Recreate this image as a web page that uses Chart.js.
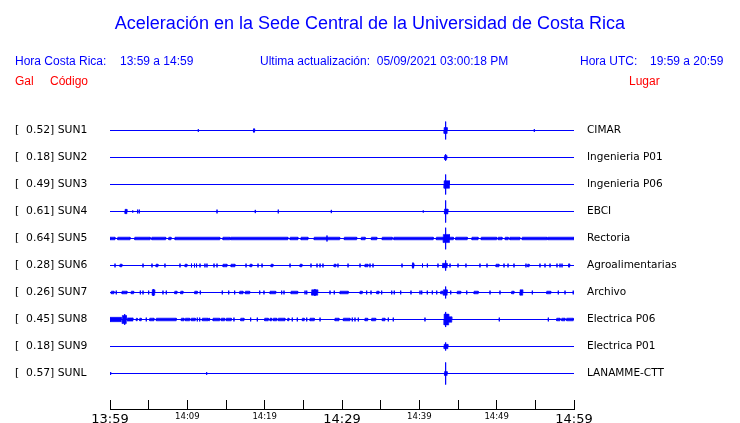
<!DOCTYPE html>
<html>
<head>
<meta charset="utf-8">
<script src="https://cdn.jsdelivr.net/npm/chart.js@4/dist/chart.umd.min.js"></script>
<style>
  body { margin: 0; background: #fff; }
  #wrap { position: relative; width: 740px; height: 423px; overflow: hidden; }
  #plot { position: absolute; left: 0; top: 0; }
  .txt { position: absolute; font-family: "Liberation Sans", Arial, sans-serif; line-height: 1; white-space: pre; }
  .blue { color: #0000ff; }
  .red  { color: #ff0000; }
</style>
</head>
<body>
<div id="wrap">
  <canvas id="plot" width="740" height="423"></canvas>
  <div class="txt blue" style="left:0;width:740px;text-align:center;top:14px;font-size:18px;">Aceleración en la Sede Central de la Universidad de Costa Rica</div>
  <div class="txt blue" style="left:15px;top:55px;font-size:12px;">Hora Costa Rica:</div>
  <div class="txt blue" style="left:120px;top:55px;font-size:12px;">13:59 a 14:59</div>
  <div class="txt blue" style="left:260px;top:55px;font-size:12px;">Ultima actualización:  05/09/2021 03:00:18 PM</div>
  <div class="txt blue" style="left:580px;top:55px;font-size:12px;">Hora UTC:</div>
  <div class="txt blue" style="left:650px;top:55px;font-size:12px;">19:59 a 20:59</div>
  <div class="txt red" style="left:15px;top:75px;font-size:12px;">Gal</div>
  <div class="txt red" style="left:50px;top:75px;font-size:12px;">Código</div>
  <div class="txt red" style="left:629px;top:75px;font-size:12px;">Lugar</div>
</div>
<script>
// --- Données ---
const STATIONS = ['SUN1', 'SUN2', 'SUN3', 'SUN4', 'SUN5', 'SUN6', 'SUN7', 'SUN8', 'SUN9', 'SUNL'];
const PEAK_GAL = ['0.52', '0.18', '0.49', '0.61', '0.64', '0.28', '0.26', '0.45', '0.18', '0.57'];
const PLACES   = ['CIMAR', 'Ingenieria P01', 'Ingenieria P06', 'EBCI', 'Rectoria',
                  'Agroalimentarias', 'Archivo', 'Electrica P06', 'Electrica P01', 'LANAMME-CTT'];

// minutes après 13:59
const TICK_MINUTES     = [0, 10, 20, 30, 40, 50, 60];
const TICK_LABELS      = ['13:59', '14:09', '14:19', '14:29', '14:39', '14:49', '14:59'];
const BIG_TICK_MINUTES = [0, 30, 60];

// pics : [minute, amplitude]   (amplitude en fraction de l'écart entre traces)
// bandes de bruit : [début, fin, amplitude]
const SUN1_SPIKES = [[11.42, 0.05], [18.62, 0.07], [43.4, 0.33], [54.87, 0.05]];
const SUN1_BANDS  = [[18.55, 18.7, 0.06], [43.2, 43.6, 0.11]];

const SUN2_SPIKES = [[43.4, 0.12]];
const SUN2_BANDS  = [[43.25, 43.55, 0.07]];

const SUN3_SPIKES = [[43.4, 0.37]];
const SUN3_BANDS  = [[43.2, 43.9, 0.14]];

const SUN4_SPIKES = [[2.94, 0.04], [3.58, 0.07], [3.79, 0.07], [13.84, 0.07], [18.79, 0.06],
                     [21.76, 0.07], [28.62, 0.06], [40.51, 0.04], [43.4, 0.41]];
const SUN4_BANDS  = [[1.94, 2.2, 0.08], [43.25, 43.7, 0.09]];

const SUN5_SPIKES = [[28.06, 0.11], [43.4, 0.4]];
const SUN5_BANDS  = [[0, 0.65, 0.05], [1.0, 2.6, 0.05], [3.2, 5.2, 0.05], [5.4, 7.2, 0.05], [7.6, 7.9, 0.05],
                     [8.4, 14.2, 0.05], [14.6, 15.5, 0.05], [15.6, 23.0, 0.05], [23.3, 24.3, 0.05],
                     [24.7, 25.6, 0.05], [26.4, 29.7, 0.05], [30.3, 31.9, 0.05], [32.5, 33.0, 0.05],
                     [33.8, 34.5, 0.05], [35.2, 36.5, 0.05], [36.7, 41.8, 0.05], [42.2, 43.1, 0.05],
                     [43.1, 43.9, 0.15], [43.9, 44.4, 0.05], [44.7, 46.2, 0.05], [46.8, 47.6, 0.05],
                     [48.0, 50.0, 0.05], [50.2, 50.7, 0.05], [51.1, 51.5, 0.05], [51.7, 53.0, 0.05],
                     [53.3, 56.5, 0.05], [56.6, 60, 0.05]];

const SUN6_SPIKES = [[0.65, 0.07], [4.27, 0.07], [5.43, 0.07], [7.11, 0.07], [9.05, 0.07], [10.54, 0.07],
                     [10.93, 0.07], [11.19, 0.07], [11.64, 0.07], [12.28, 0.07], [12.54, 0.07], [13.45, 0.07],
                     [13.84, 0.07], [17.59, 0.07], [19.14, 0.07], [19.66, 0.07], [23.28, 0.07], [25.99, 0.07],
                     [26.77, 0.07], [27.16, 0.07], [27.54, 0.07], [29.48, 0.07], [30.78, 0.07], [32.33, 0.07],
                     [33.62, 0.07], [34.01, 0.07], [37.76, 0.07], [39.18, 0.11], [40.41, 0.07], [41.04, 0.07],
                     [42.41, 0.07], [43.4, 0.19], [43.97, 0.07], [45.0, 0.07], [46.03, 0.07], [47.84, 0.07],
                     [48.75, 0.07], [50.95, 0.07], [51.47, 0.07], [52.24, 0.07], [53.79, 0.07], [55.6, 0.07],
                     [56.25, 0.07], [56.9, 0.07], [57.8, 0.07], [58.19, 0.07], [58.45, 0.07], [59.36, 0.07]];
const SUN6_BANDS  = [[1.29, 1.55, 0.05], [5.95, 6.21, 0.05], [9.7, 9.96, 0.05], [14.61, 15.13, 0.05],
                     [15.65, 16.16, 0.05], [18.1, 18.36, 0.05], [20.82, 21.08, 0.05], [24.57, 24.83, 0.05],
                     [28.97, 29.22, 0.05], [32.97, 33.36, 0.05], [39.1, 39.3, 0.07], [43.0, 43.6, 0.08],
                     [49.91, 50.3, 0.05], [54.0, 54.2, 0.05], [59.3, 59.45, 0.05]];

const SUN7_SPIKES = [[0.81, 0.07], [3.92, 0.07], [4.27, 0.07], [5.0, 0.07], [5.6, 0.13], [6.85, 0.07],
                     [7.28, 0.07], [11.68, 0.07], [14.52, 0.07], [15.35, 0.07], [16.12, 0.07], [19.36, 0.07],
                     [19.91, 0.07], [22.2, 0.07], [22.5, 0.07], [25.22, 0.07], [25.44, 0.07], [26.5, 0.13],
                     [28.45, 0.07], [29.0, 0.07], [33.19, 0.07], [33.75, 0.07], [35.13, 0.07], [36.43, 0.07],
                     [36.76, 0.07], [37.59, 0.07], [38.92, 0.07], [40.09, 0.07], [40.31, 0.07], [41.03, 0.07],
                     [41.68, 0.07], [42.25, 0.07], [43.4, 0.22], [44.06, 0.07], [46.13, 0.07], [49.14, 0.07],
                     [50.43, 0.07], [54.61, 0.07], [57.97, 0.07], [58.84, 0.07], [59.9, 0.07]];
const SUN7_BANDS  = [[0.17, 0.52, 0.05], [1.55, 2.2, 0.05], [2.75, 3.06, 0.05], [5.47, 5.78, 0.1],
                     [8.37, 8.66, 0.05], [9.14, 9.44, 0.05], [10.95, 11.29, 0.05], [16.77, 17.2, 0.05],
                     [17.5, 18.06, 0.05], [20.69, 21.43, 0.05], [23.41, 24.27, 0.05], [26.08, 26.86, 0.1],
                     [29.74, 30.81, 0.05], [32.33, 32.62, 0.05], [34.49, 34.78, 0.05], [42.76, 43.02, 0.05],
                     [43.1, 43.6, 0.1], [44.91, 45.35, 0.05], [47.07, 47.62, 0.05], [51.94, 52.24, 0.05],
                     [53.02, 53.37, 0.1], [56.47, 56.99, 0.05]];

const SUN8_SPIKES = [[1.9, 0.2], [4.69, 0.07], [11.29, 0.07], [11.6, 0.07], [16.03, 0.07], [18.19, 0.07],
                     [19.05, 0.07], [23.57, 0.07], [24.22, 0.07], [25.44, 0.07], [27.16, 0.07], [31.33, 0.07],
                     [31.68, 0.07], [32.11, 0.07], [35.99, 0.07], [36.63, 0.07], [40.73, 0.07], [43.4, 0.28],
                     [50.34, 0.07], [56.68, 0.07]];
const SUN8_BANDS  = [[0, 1.46, 0.08], [1.59, 2.11, 0.15], [2.24, 2.97, 0.06], [3.4, 3.53, 0.05], [3.84, 4.05, 0.05],
                     [5.13, 5.69, 0.05], [5.99, 8.57, 0.05], [9.22, 9.57, 0.05], [9.74, 10.31, 0.05],
                     [10.51, 11.03, 0.05], [11.94, 12.67, 0.05], [12.76, 12.88, 0.05], [13.32, 14.19, 0.05],
                     [14.39, 14.83, 0.05], [15.04, 15.69, 0.05], [16.9, 17.33, 0.05], [20.0, 20.47, 0.05],
                     [20.69, 20.91, 0.05], [21.12, 21.56, 0.05], [21.76, 22.63, 0.05], [22.98, 23.15, 0.05],
                     [24.87, 25.12, 0.05], [25.86, 26.42, 0.05], [29.09, 29.61, 0.05], [30.17, 31.03, 0.05],
                     [32.97, 33.32, 0.05], [33.84, 34.36, 0.05], [35.21, 35.56, 0.05], [43.2, 43.8, 0.2],
                     [43.8, 44.2, 0.1], [57.76, 58.19, 0.05], [58.41, 58.84, 0.05], [59.05, 59.91, 0.05]];

const SUN9_SPIKES = [[43.4, 0.15]];
const SUN9_BANDS  = [[43.2, 43.7, 0.08]];

const SUNL_SPIKES = [[0.09, 0.05], [12.5, 0.05], [43.4, 0.41]];
const SUNL_BANDS  = [[43.25, 43.6, 0.07]];

const ALL_SPIKES = [SUN1_SPIKES, SUN2_SPIKES, SUN3_SPIKES, SUN4_SPIKES, SUN5_SPIKES,
                    SUN6_SPIKES, SUN7_SPIKES, SUN8_SPIKES, SUN9_SPIKES, SUNL_SPIKES];
const ALL_BANDS  = [SUN1_BANDS, SUN2_BANDS, SUN3_BANDS, SUN4_BANDS, SUN5_BANDS,
                    SUN6_BANDS, SUN7_BANDS, SUN8_BANDS, SUN9_BANDS, SUNL_BANDS];

const TRACE_COLOR = '#0000ff';

// -------------------------------------------------------
// Trace d'une station : ligne de base + pics verticaux
// -------------------------------------------------------
function tracePoints(row, spikes) {
  const pts = [{ x: 0, y: row }];
  spikes.slice().sort((p, q) => p[0] - q[0]).forEach(([t, a]) => {
    pts.push({ x: t, y: row }, { x: t, y: row - a }, { x: t, y: row + a }, { x: t, y: row });
  });
  pts.push({ x: 60, y: row });
  return pts;
}

// Enveloppe d'un côté (sign = -1 haut, +1 bas) des bandes de bruit, remplie jusqu'à la ligne de base
function envelopePoints(row, bands, sign) {
  const pts = [{ x: 0, y: row }];
  bands.slice().sort((p, q) => p[0] - q[0]).forEach(([s, e, a]) => {
    pts.push({ x: s, y: row }, { x: s, y: row + sign * a }, { x: e, y: row + sign * a }, { x: e, y: row });
  });
  pts.push({ x: 60, y: row });
  return pts;
}

const datasets = [];
STATIONS.forEach((name, i) => {
  [-1, 1].forEach(sign => {
    datasets.push({
      label: name + (sign < 0 ? ' +' : ' -'),
      data: envelopePoints(i, ALL_BANDS[i], sign),
      borderColor: TRACE_COLOR,
      borderWidth: 0.6,
      backgroundColor: TRACE_COLOR,
      fill: { value: i },
      pointRadius: 0,
      tension: 0,
    });
  });
  datasets.push({
    label: name,
    data: tracePoints(i, ALL_SPIKES[i]),
    borderColor: TRACE_COLOR,
    borderWidth: 1,
    pointRadius: 0,
    tension: 0,
    fill: false,
  });
});

const ROW_PX = 27;
const Y_MIN = -0.5;
const Y_MAX = (409 - 117) / ROW_PX - 0.5;
const rowTicks = scale => { scale.ticks = STATIONS.map((_, i) => ({ value: i })); };
const noPad = s => { s.paddingTop = 0; s.paddingBottom = 0; s.paddingLeft = 0; s.paddingRight = 0; };

new Chart(document.getElementById('plot'), {
  type: 'line',
  data: { datasets },
  options: {
    responsive: false,
    devicePixelRatio: 1,
    animation: false,
    layout: { padding: { left: 15, right: 0, top: 117, bottom: 0 } },
    plugins: { legend: { display: false }, tooltip: { enabled: false } },
    scales: {
      x: {
        type: 'linear',
        min: 0,
        max: 60,
        afterFit: s => { s.height = 14; noPad(s); },
        border: { display: true, color: '#000', width: 1 },
        grid: { drawOnChartArea: false, drawTicks: true, tickLength: -9, color: '#000' },
        ticks: {
          stepSize: 5,
          autoSkip: false,
          maxRotation: 0,
          padding: 12,
          color: '#000',
          font: ctx => ({
            family: 'DejaVu Sans',
            size: ctx.tick && BIG_TICK_MINUTES.includes(ctx.tick.value) ? 13 : 8.5,
          }),
          callback: v => {
            const i = TICK_MINUTES.indexOf(v);
            return i >= 0 ? TICK_LABELS[i] : '';
          },
        },
      },
      y: {
        type: 'linear',
        position: 'left',
        reverse: true,
        min: Y_MIN,
        max: Y_MAX,
        afterFit: s => { s.width = 95; noPad(s); },
        afterBuildTicks: rowTicks,
        border: { display: false },
        grid: { display: false, drawTicks: false },
        ticks: {
          autoSkip: false,
          crossAlign: 'far',
          color: '#000',
          font: { family: 'DejaVu Sans', size: 10.8 },
          callback: (v, i) => '[  ' + PEAK_GAL[i] + '] ' + STATIONS[i],
        },
      },
      yr: {
        type: 'linear',
        position: 'right',
        reverse: true,
        min: Y_MIN,
        max: Y_MAX,
        afterFit: s => { s.width = 166; noPad(s); },
        afterBuildTicks: rowTicks,
        border: { display: false },
        grid: { display: false, drawTicks: false },
        ticks: {
          autoSkip: false,
          padding: 13,
          color: '#000',
          font: { family: 'DejaVu Sans', size: 10.5 },
          callback: (v, i) => PLACES[i],
        },
      },
    },
  },
});
</script>
</body>
</html>
